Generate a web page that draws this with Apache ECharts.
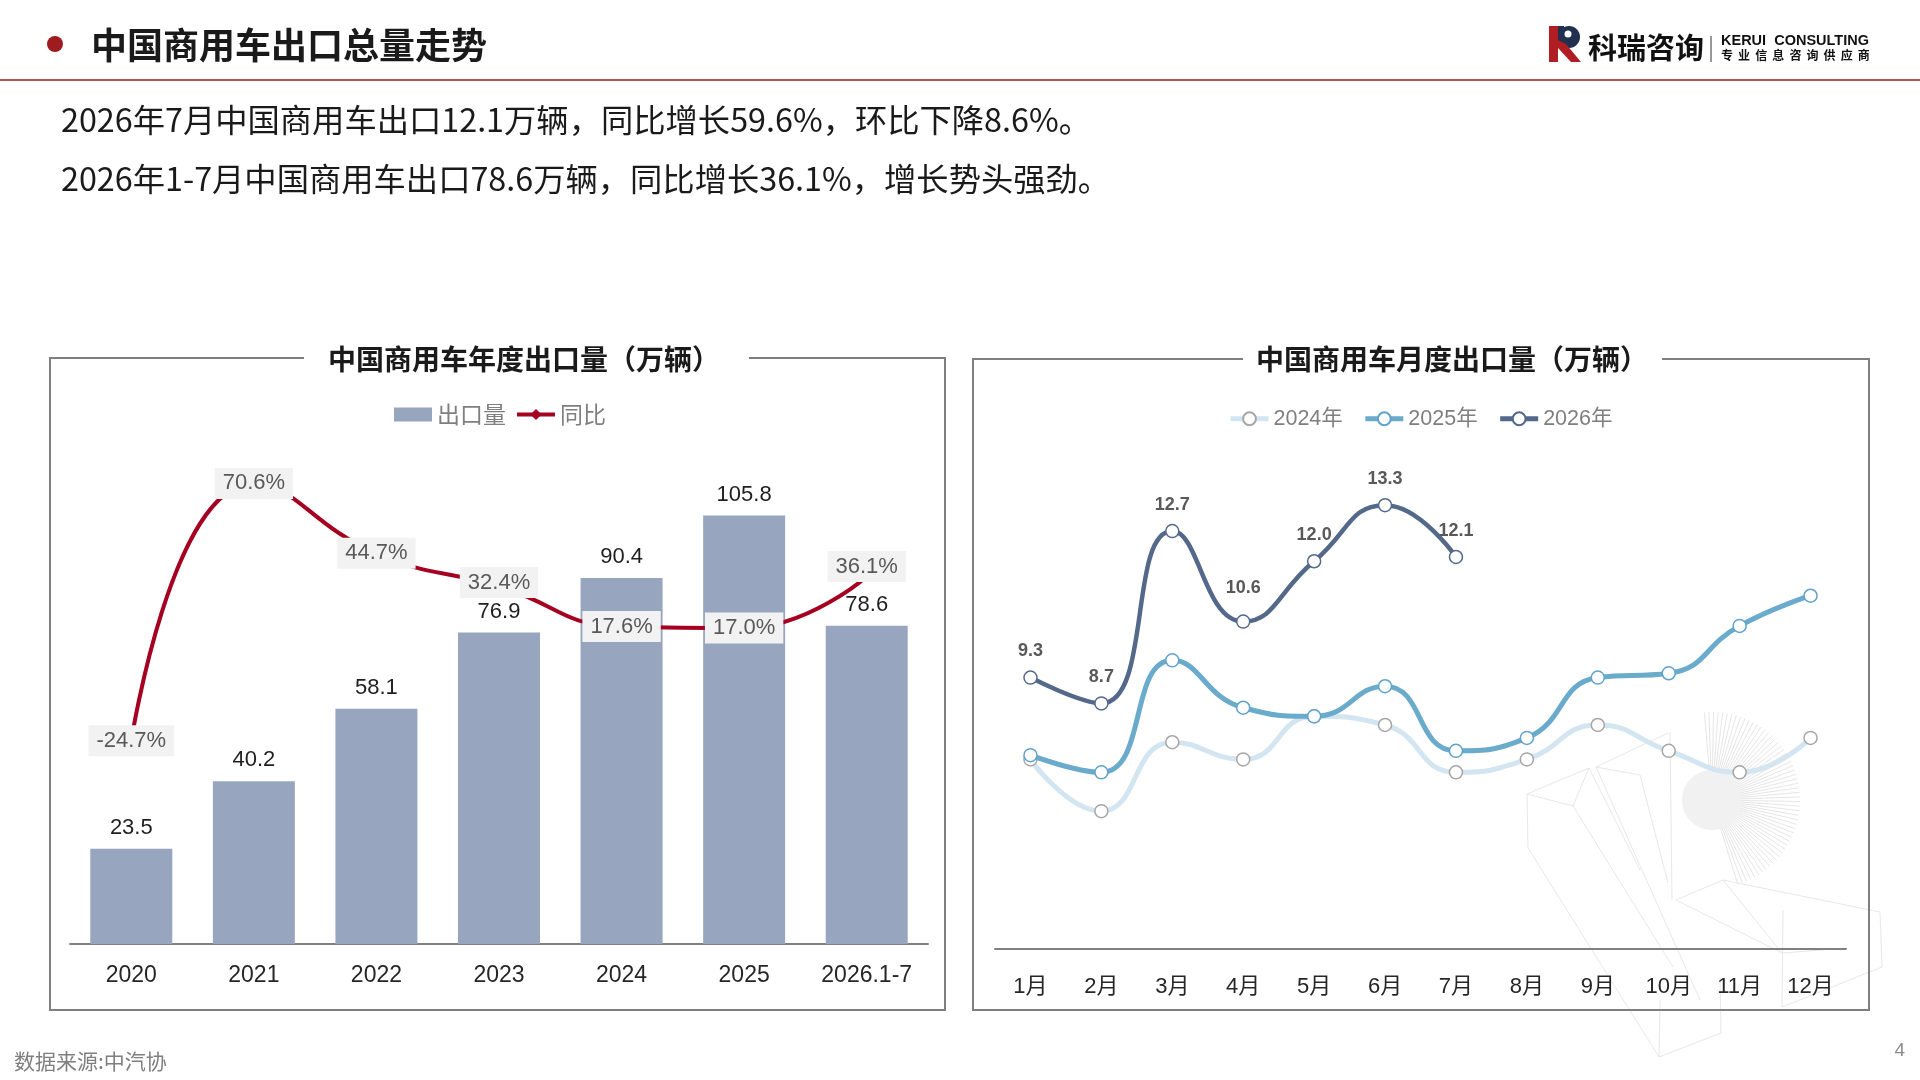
<!DOCTYPE html>
<html>
<head>
<meta charset="utf-8">
<script src="https://cdn.jsdelivr.net/npm/echarts@6/dist/echarts.min.js"></script>
<style>
html,body{margin:0;padding:0;background:#ffffff;}
#c{width:1920px;height:1080px;}
</style>
</head>
<body>
<div id="c"></div>
<script>
// ---------- data ----------
const yearCats = ['2020', '2021', '2022', '2023', '2024', '2025', '2026.1-7'];
const yearExports = [23.5, 40.2, 58.1, 76.9, 90.4, 105.8, 78.6];
const yearYoY = [-24.7, 70.6, 44.7, 32.4, 17.6, 17.0, 36.1];

const monthCats = ['1月', '2月', '3月', '4月', '5月', '6月', '7月', '8月', '9月', '10月', '11月', '12月'];
const m2024 = [7.4, 6.2, 7.8, 7.4, 8.4, 8.2, 7.1, 7.4, 8.2, 7.6, 7.1, 7.9];
const m2025 = [7.5, 7.1, 9.7, 8.6, 8.4, 9.1, 7.6, 7.9, 9.3, 9.4, 10.5, 11.2];
const m2026 = [9.3, 8.7, 12.7, 10.6, 12.0, 13.3, 12.1];

const headerTitle = '中国商用车出口总量走势';
const summaryLines = [
  '2026年7月中国商用车出口12.1万辆，同比增长59.6%，环比下降8.6%。',
  '2026年1-7月中国商用车出口78.6万辆，同比增长36.1%，增长势头强劲。'
];
const leftTitle = '中国商用车年度出口量（万辆）';
const rightTitle = '中国商用车月度出口量（万辆）';
const sourceText = '数据来源:中汽协';
const logoSub = ['专', '业', '信', '息', '咨', '询', '供', '应', '商'];

// ---------- styling ----------
const FONT = "'Liberation Sans', Arial, 'Noto Sans CJK SC', sans-serif";
const CJK = "'Noto Sans CJK SC', 'Liberation Sans', sans-serif";
const BORDER = '#7F7F7F';

const chart = echarts.init(document.getElementById('c'), null, {renderer: 'canvas'});

function boxBorder(l, t, r, b, g1, g2) {
  return {
    type: 'polyline', silent: true,
    shape: {points: [[g1, t], [l, t], [l, b], [r, b], [r, t], [g2, t]]},
    style: {stroke: BORDER, lineWidth: 2, fill: null}
  };
}

// faint decorative wireframe (background art, lower right)
const deco = [];
const decoLines = [
  [[1527,794],[1589,768],[1573,806],[1527,794]],
  [[1527,794],[1528,848],[1659,1057],[1721,1033],[1720,977]],
  [[1573,806],[1673,967]],
  [[1589,768],[1640,870]],
  [[1596,767],[1640,775],[1668,883]],
  [[1596,767],[1668,733]],
  [[1596,767],[1700,1000]],
  [[1670,732],[1672,900]],
  [[1676,900],[1723,880],[1880,912]],
  [[1676,900],[1782,953],[1847,948]],
  [[1723,880],[1782,953]],
  [[1783,910],[1782,1007],[1882,967],[1880,912]],
  [[1659,1057],[1660,1000]]
];
decoLines.forEach(p => deco.push({
  type: 'polyline', silent: true, z: -10,
  shape: {points: p}, style: {stroke: '#E8E8E8', lineWidth: 1, fill: null}
}));
for (let a = -95; a <= 75; a += 3) {
  const rad = a * Math.PI / 180;
  deco.push({
    type: 'line', silent: true, z: -10,
    shape: {x1: 1712, y1: 800, x2: 1712 + 88 * Math.cos(rad), y2: 800 + 88 * Math.sin(rad)},
    style: {stroke: '#E6E6E6', lineWidth: 1}
  });
}
deco.push({type: 'circle', silent: true, z: -9, shape: {cx: 1712, cy: 800, r: 30}, style: {fill: '#F1F1F1'}});

const yoyOffsets = {3: [0, -4], 6: [0, -10]};
const m26Offsets = {3: [0, -7]};

const logoSubEls = logoSub.map((ch, i) => ({
  type: 'text', silent: true, x: 1727 + i * 17.1, y: 55,
  style: {text: ch, font: "bold 12px 'Noto Sans CJK SC'", fill: '#111111', textAlign: 'center', textVerticalAlign: 'middle'}
}));

const option = {
  animation: false,
  backgroundColor: '#ffffff',
  textStyle: {fontFamily: FONT},
  grid: [
    {left: 70, top: 458, width: 858, height: 486},
    {left: 995, top: 432, width: 851, height: 517}
  ],
  legend: [
    {
      data: [{name: '出口量', icon: 'rect'}, {name: '同比'}],
      left: 389, top: 398, itemWidth: 38, itemHeight: 14, itemGap: 9,
      selectedMode: false,
      lineStyle: {width: 4},
      textStyle: {fontSize: 23, color: '#7F7F7F', fontFamily: CJK}
    },
    {
      data: ['2024年', '2025年', '2026年'],
      left: 1223, top: 403, itemWidth: 38, itemHeight: 16, itemGap: 20,
      selectedMode: false,
      lineStyle: {width: 5},
      textStyle: {fontSize: 21.5, color: '#7F7F7F', fontFamily: FONT}
    }
  ],
  xAxis: [
    {
      type: 'category', gridIndex: 0, data: yearCats,
      axisLine: {onZero: false, lineStyle: {color: '#808080', width: 2}},
      axisTick: {show: false},
      axisLabel: {fontSize: 23, color: '#262626', margin: 20, fontFamily: FONT}
    },
    {
      type: 'category', gridIndex: 1, data: monthCats,
      axisLine: {onZero: false, lineStyle: {color: '#808080', width: 2}},
      axisTick: {show: false},
      axisLabel: {fontSize: 22, color: '#262626', margin: 27, fontFamily: FONT}
    }
  ],
  yAxis: [
    {type: 'value', gridIndex: 0, min: 0, max: 120, show: false},
    {type: 'value', gridIndex: 0, min: -100, max: 80, show: false},
    {type: 'value', gridIndex: 1, min: 3, max: 15, show: false}
  ],
  series: [
    {
      name: '出口量', type: 'bar', xAxisIndex: 0, yAxisIndex: 0,
      data: yearExports, barWidth: 82,
      itemStyle: {color: '#97A6BE'},
      label: {show: true, position: 'top', distance: 10, fontSize: 22, color: '#1F1F1F', fontFamily: FONT},
      z: 2
    },
    {
      name: '同比', type: 'line', xAxisIndex: 0, yAxisIndex: 1,
      data: yearYoY.map((v, i) => yoyOffsets[i] ? {value: v, label: {offset: yoyOffsets[i]}} : v),
      smooth: 0.5,
      symbol: 'diamond', symbolSize: 10,
      lineStyle: {color: '#A50021', width: 4},
      itemStyle: {color: '#A50021'},
      label: {
        show: true, position: 'inside',
        formatter: p => p.value.toFixed(1) + '%',
        backgroundColor: '#F2F2F2', padding: [5, 8, 4, 8],
        fontSize: 22, color: '#595959', fontFamily: FONT
      },
      z: 3
    },
    {
      name: '2024年', type: 'line', xAxisIndex: 1, yAxisIndex: 2,
      data: m2024, smooth: 0.5,
      symbol: 'circle', symbolSize: 13,
      lineStyle: {color: '#D2E5F0', width: 5},
      itemStyle: {color: '#ffffff', borderColor: '#A6A6A6', borderWidth: 1.5},
      z: 3
    },
    {
      name: '2025年', type: 'line', xAxisIndex: 1, yAxisIndex: 2,
      data: m2025, smooth: 0.5,
      symbol: 'circle', symbolSize: 13,
      lineStyle: {color: '#6AAACB', width: 5},
      itemStyle: {color: '#ffffff', borderColor: '#5FA3CC', borderWidth: 1.5},
      z: 4
    },
    {
      name: '2026年', type: 'line', xAxisIndex: 1, yAxisIndex: 2,
      data: m2026.map((v, i) => m26Offsets[i] ? {value: v, label: {offset: m26Offsets[i]}} : v),
      smooth: 0.5,
      symbol: 'circle', symbolSize: 13,
      lineStyle: {color: '#54698A', width: 4.5},
      itemStyle: {color: '#ffffff', borderColor: '#54698A', borderWidth: 1.5},
      label: {
        show: true, position: 'top', distance: 10,
        formatter: p => p.value.toFixed(1),
        fontSize: 18, fontWeight: 'bold', color: '#595959', fontFamily: FONT
      },
      z: 5
    }
  ],
  graphic: {
    elements: [
      // header
      {type: 'circle', silent: true, shape: {cx: 55, cy: 44, r: 8}, style: {fill: '#9E1B20'}},
      {type: 'text', silent: true, x: 91, y: 45,
        style: {text: headerTitle, font: "bold 36px 'Noto Sans CJK SC'", fill: '#1A1A1A', textAlign: 'left', textVerticalAlign: 'middle'}},
      {type: 'line', silent: true, shape: {x1: 0, y1: 80, x2: 1920, y2: 80}, style: {stroke: '#9E1B20', lineWidth: 1.5}},
      // logo
      {type: 'rect', silent: true, shape: {x: 1549, y: 26, width: 9, height: 36}, style: {fill: '#B01E23'}},
      {type: 'circle', silent: true, shape: {cx: 1569, cy: 37, r: 11}, style: {fill: '#22304F'}},
      {type: 'rect', silent: true, shape: {x: 1558, y: 26, width: 6, height: 22}, style: {fill: '#22304F'}},
      {type: 'circle', silent: true, shape: {cx: 1568, cy: 34, r: 3.5}, style: {fill: '#ffffff'}},
      {type: 'polygon', silent: true, shape: {points: [[1558, 40], [1566, 44], [1581, 62], [1571, 62], [1558, 48]]}, style: {fill: '#B01E23'}},
      {type: 'text', silent: true, x: 1588, y: 48,
        style: {text: '科瑞咨询', font: "bold 29px 'Noto Sans CJK SC'", fill: '#111111', textAlign: 'left', textVerticalAlign: 'middle'}},
      {type: 'line', silent: true, shape: {x1: 1711, y1: 36, x2: 1711, y2: 62}, style: {stroke: '#333333', lineWidth: 1}},
      {type: 'text', silent: true, x: 1721, y: 41,
        style: {text: 'KERUI  CONSULTING', font: "bold 14.5px 'Liberation Sans'", fill: '#111111', textAlign: 'left', textVerticalAlign: 'middle'}},
      // summary text
      {type: 'text', silent: true, x: 61, y: 120,
        style: {text: summaryLines[0], font: "32.3px 'Noto Sans CJK SC'", fill: '#1A1A1A', textAlign: 'left', textVerticalAlign: 'middle'}},
      {type: 'text', silent: true, x: 61, y: 179,
        style: {text: summaryLines[1], font: "32.3px 'Noto Sans CJK SC'", fill: '#1A1A1A', textAlign: 'left', textVerticalAlign: 'middle'}},
      // panel boxes
      boxBorder(50, 358, 945, 1010, 304, 749),
      boxBorder(973, 359, 1869, 1010, 1243, 1662),
      {type: 'text', silent: true, x: 524, y: 359,
        style: {text: leftTitle, font: "bold 28px 'Noto Sans CJK SC'", fill: '#1A1A1A', textAlign: 'center', textVerticalAlign: 'middle'}},
      {type: 'text', silent: true, x: 1452, y: 359,
        style: {text: rightTitle, font: "bold 28px 'Noto Sans CJK SC'", fill: '#1A1A1A', textAlign: 'center', textVerticalAlign: 'middle'}},
      // footer
      {type: 'text', silent: true, x: 14, y: 1061,
        style: {text: sourceText, font: "21px 'Noto Sans CJK SC'", fill: '#7F7F7F', textAlign: 'left', textVerticalAlign: 'middle'}},
      {type: 'text', silent: true, x: 1905, y: 1051,
        style: {text: '4', font: "19px 'Liberation Sans'", fill: '#8C8C8C', textAlign: 'right', textVerticalAlign: 'middle'}}
    ].concat(logoSubEls).concat(deco)
  }
};

chart.setOption(option);
</script>
</body>
</html>
